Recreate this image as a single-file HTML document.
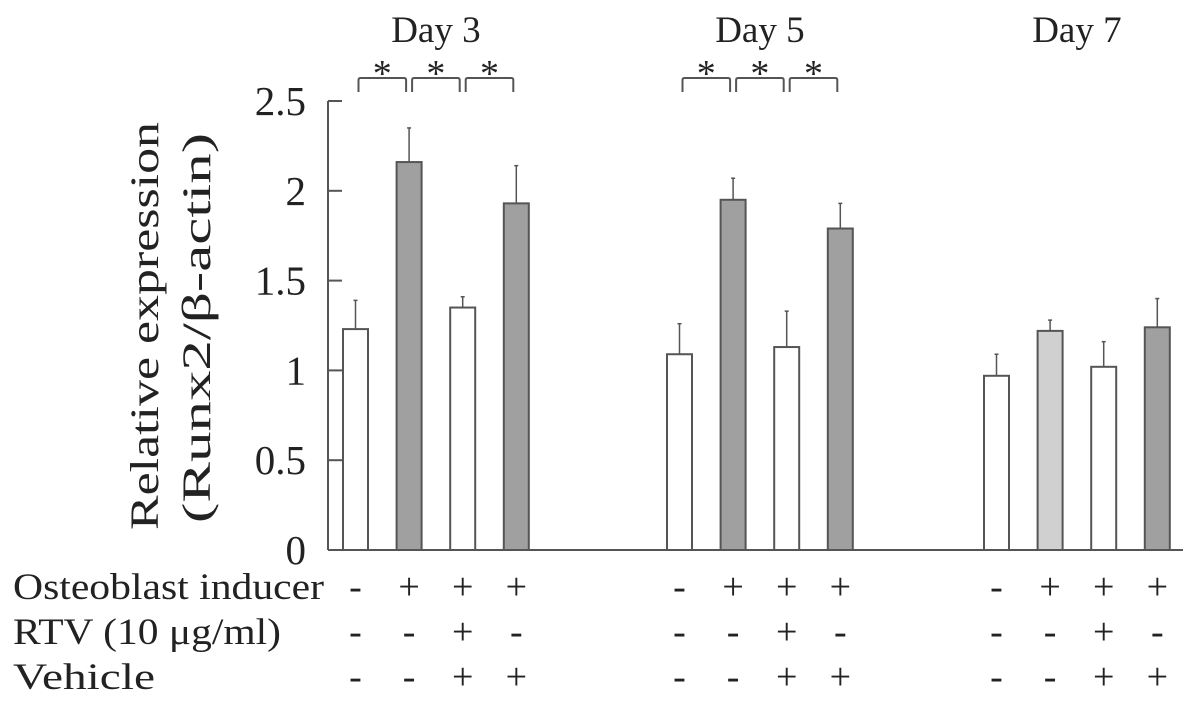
<!DOCTYPE html>
<html><head><meta charset="utf-8"><style>
body{margin:0;background:#fff}
svg{display:block;font-family:"Liberation Serif",serif}
</style></head><body>
<svg id="c" width="1196" height="716" xmlns="http://www.w3.org/2000/svg"></svg>
<script>
const groups=["Day 3","Day 5","Day 7"];
const values=[[1.23,2.16,1.35,1.93],[1.09,1.95,1.13,1.79],[0.97,1.22,1.02,1.24]];
const errors=[[0.16,0.19,0.06,0.21],[0.17,0.12,0.2,0.14],[0.12,0.06,0.14,0.16]];
const fills=[["#fff","#a0a0a0","#fff","#a0a0a0"],["#fff","#a0a0a0","#fff","#a0a0a0"],["#fff","#d0d0d0","#fff","#a0a0a0"]];
const yTicks=[0,0.5,1,1.5,2,2.5];
const yTickLabels=["0","0.5","1","1.5","2","2.5"];
const sigGroups=[0,1];
const rowLabels=["Osteoblast inducer","RTV (10 μg/ml)","Vehicle"];
const rowLabelLen=[311,268,142];
const rowSigns=[["-","+","+","+"],["-","-","+","-"],["-","-","+","+"]];
const NS="http://www.w3.org/2000/svg",svg=document.getElementById('c');
const y0=550,ky=179.6,ax=328;
const y=v=>y0-v*ky;
const groupStart=[343,667,984],step=53.6,bw=25;
const bx=(g,i)=>groupStart[g]+i*step;
function mk(t,a,txt){const e=document.createElementNS(NS,t);for(const k in a)e.setAttribute(k,a[k]);if(txt!=null)e.textContent=txt;svg.appendChild(e);return e;}
let e=mk('line',{x1:ax,y1:y(2.5),x2:ax,y2:y0,stroke:'#555','stroke-width':2});

e=mk('line',{x1:ax,y1:y0,x2:1183,y2:y0,stroke:'#555','stroke-width':2});

yTicks.forEach((t,i)=>{
 e=mk('line',{x1:ax,y1:y(t),x2:ax+14,y2:y(t),stroke:'#555','stroke-width':2});
 
 e=mk('text',{x:306,y:y(t)+14,'text-anchor':'end','font-size':41,fill:'#222'},yTickLabels[i]);
 
});
e=mk('text',{transform:'translate(158,326) rotate(-90)','text-anchor':'middle','font-size':40,textLength:408,lengthAdjust:'spacingAndGlyphs',fill:'#222'},'Relative expression');

e=mk('text',{transform:'translate(210,328) rotate(-90)','text-anchor':'middle','font-size':40,textLength:390,lengthAdjust:'spacingAndGlyphs',fill:'#222'},'(Runx2/β-actin)');

groups.forEach((g,gi)=>{
 const cx=(bx(gi,0)+bx(gi,3)+bw)/2;
 e=mk('text',{x:cx,y:42,'text-anchor':'middle','font-size':37,fill:'#222'},g);
 
 values[gi].forEach((v,i)=>{
  const x=bx(gi,i),c=x+bw/2,top=y(v+errors[gi][i]);
  e=mk('line',{x1:c,y1:y(v),x2:c,y2:top,stroke:'#555','stroke-width':1.5});
  
  e=mk('line',{x1:c-2,y1:top,x2:c+2,y2:top,stroke:'#555','stroke-width':1.5});
  
  e=mk('rect',{x:x,y:y(v),width:bw,height:v*ky,fill:fills[gi][i],stroke:'#555','stroke-width':2});
  
  rowSigns.forEach((r,ri)=>{
   e=mk('text',{x:c,y:599+ri*45,'text-anchor':'middle','font-size':38,fill:'#222'},r[i]);
   
  });
 });
});
sigGroups.forEach(gi=>{
 for(let i=0;i<3;i++){
  const a=bx(gi,i)+bw/2+3,b=bx(gi,i+1)+bw/2-3;
  e=mk('path',{d:`M${a} 92 V80 Q${a} 78 ${a+2} 78 H${b-2} Q${b} 78 ${b} 80 V92`,fill:'none',stroke:'#555','stroke-width':2});
  
  e=mk('text',{x:(a+b)/2,y:86,'text-anchor':'middle','font-size':38,fill:'#222'},'*');
  
 }
});
rowLabels.forEach((l,ri)=>{
 e=mk('text',{x:13,y:599+ri*45,'font-size':37,textLength:rowLabelLen[ri],lengthAdjust:'spacingAndGlyphs',fill:'#222'},l);
 
});
</script>
</body></html>
